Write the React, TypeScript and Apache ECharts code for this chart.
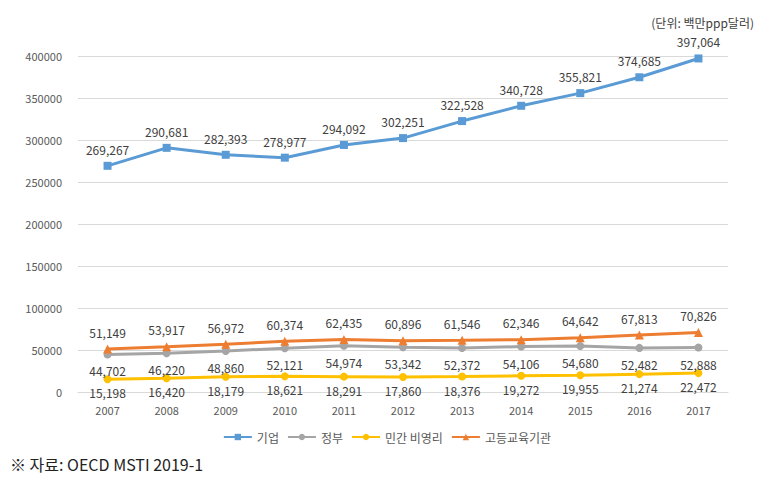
import React, { useEffect, useRef } from "react";
import * as echarts from "echarts";

const years = ["2007", "2008", "2009", "2010", "2011", "2012", "2013", "2014", "2015", "2016", "2017"];
const business = [269267, 290681, 282393, 278977, 294092, 302251, 322528, 340728, 355821, 374685, 397064];
const government = [44702, 46220, 48860, 52121, 54974, 53342, 52372, 54106, 54680, 52482, 52888];
const nonprofit = [15198, 16420, 18179, 18621, 18291, 17860, 18376, 19272, 19955, 21274, 22472];
const higherEd = [51149, 53917, 56972, 60374, 62435, 60896, 61546, 62346, 64642, 67813, 70826];
const yTicks = [0, 50000, 100000, 150000, 200000, 250000, 300000, 350000, 400000];

const FONT = "'Noto Sans CJK KR', 'Noto Sans', sans-serif";
const fmt = (p: any) => Number(p.value).toLocaleString("en-US");

export default function App() {
  const ref = useRef<HTMLDivElement>(null);
  useEffect(() => {
    if (!ref.current) return;
    const chart = echarts.init(ref.current, null, { renderer: "svg" });
    const mk = (name: string, data: number[], color: string, symbol: string, pos: string, size: number, dist: number) => ({
      name,
      type: "line",
      data,
      symbol,
      symbolSize: size,
      showAllSymbol: true,
      lineStyle: { color, width: 3 },
      itemStyle: { color },
      label: {
        show: true,
        position: pos,
        distance: dist,
        formatter: fmt,
        color: "#404040",
        fontSize: 12,
        lineHeight: 13,
        fontFamily: FONT,
      },
      z: 3,
    });
    chart.setOption({
      animation: false,
      backgroundColor: "#ffffff",
      textStyle: { fontFamily: FONT },
      grid: { left: 78, right: 46, top: 56, bottom: 107, containLabel: false },
      xAxis: {
        type: "category",
        data: years,
        boundaryGap: true,
        axisLine: { show: true, lineStyle: { color: "#d9d9d9" } },
        axisTick: { show: false },
        axisLabel: { color: "#595959", fontSize: 11, lineHeight: 12, fontFamily: FONT, margin: 12 },
      },
      yAxis: {
        type: "value",
        min: 0,
        max: 400000,
        interval: 50000,
        axisLine: { show: false },
        axisTick: { show: false },
        splitLine: { lineStyle: { color: "#d9d9d9" } },
        axisLabel: {
          color: "#595959",
          fontSize: 11,
          fontFamily: FONT,
          margin: 16,
          formatter: (v: number) => (yTicks.includes(v) ? String(v) : ""),
        },
      },
      legend: {
        bottom: 51,
        left: "center",
        itemWidth: 28,
        itemHeight: 8,
        itemGap: 8,
        textStyle: { color: "#595959", fontSize: 12, fontFamily: FONT },
        data: ["기업", "정부", "민간 비영리", "고등교육기관"],
      },
      graphic: [
        {
          type: "text",
          right: 20,
          top: 16,
          style: { text: "(단위: 백만ppp달러)", fill: "#404040", fontSize: 12, fontFamily: FONT },
        },
        {
          type: "text",
          left: 10,
          top: 456,
          style: { text: "※ 자료: OECD MSTI 2019-1", fill: "#222222", fontSize: 16, fontFamily: FONT },
        },
      ],
      series: [
        mk("기업", business, "#5B9BD5", "rect", "top", 8, 6),
        mk("정부", government, "#A5A5A5", "circle", "bottom", 8, 6),
        mk("민간 비영리", nonprofit, "#FFC000", "circle", "bottom", 8, 3),
        mk("고등교육기관", higherEd, "#ED7D31", "triangle", "top", 9, 6),
      ],
    });
    return () => chart.dispose();
  }, []);
  return <div ref={ref} style={{ position: "absolute", left: 0, top: 0, width: 774, height: 499 }} />;
}
